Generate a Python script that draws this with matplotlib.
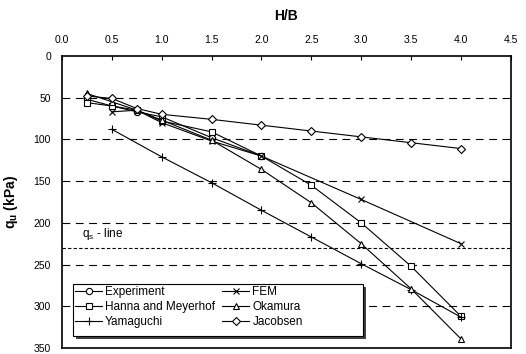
import matplotlib
matplotlib.use("Agg")
import matplotlib.pyplot as plt
from matplotlib.patches import Rectangle

plt.rcParams['font.family'] = ['Liberation Sans', 'DejaVu Sans']

hb_short = [0.25, 0.5, 0.75, 1.0, 1.5, 2.0]
hb_full = [0.25, 0.5, 0.75, 1.0, 1.5, 2.0, 2.5, 3.0, 3.5, 4.0]

experiment = [52, 60, 67, 73, 98, 120]
hb_fem = [0.5, 0.75, 1.0, 1.5, 2.0, 3.0, 4.0]
fem = [67, 65, 80, 102, 120, 172, 225]
hanna = [56, 60, 65, 78, 91, 120, 155, 200, 252, 312]
okamura = [45, 55, 65, 77, 101, 136, 176, 225, 279, 339]
hb_yama = [0.5, 1.0, 1.5, 2.0, 2.5, 3.0, 3.5, 4.0]
yamaguchi = [88, 121, 152, 185, 217, 249, 280, 313]
jacobsen = [48, 51, 63, 70, 76, 83, 90, 97, 104, 111]

qs_line = 230
grid_levels = [50, 100, 150, 200, 250, 300]
xticks = [0, 0.5, 1.0, 1.5, 2.0, 2.5, 3.0, 3.5, 4.0, 4.5]
yticks = [0, 50, 100, 150, 200, 250, 300, 350]

fig = plt.figure(figsize=(5.26, 3.54), dpi=100)
ax = fig.add_axes([0.118, 0.017, 0.853, 0.825])

for g in grid_levels:
    ax.axhline(g, color='black', lw=0.8, dashes=(7, 5), zorder=1)
ax.axhline(qs_line, color='black', lw=0.8, dashes=(3, 2), zorder=1)

kw = dict(color='black', lw=0.8, mfc='white', mec='black', mew=0.8, ms=4.5, zorder=3)
ax.plot(hb_short, experiment, marker='o', label='Experiment', **kw)
ax.plot(hb_full, hanna, marker='s', label='Hanna and Meyerhof', **kw)
ax.plot(hb_yama, yamaguchi, marker='+', label='Yamaguchi', **{**kw, 'ms': 6})
ax.plot(hb_fem, fem, marker='x', label='FEM', **kw)
ax.plot(hb_full, okamura, marker='^', label='Okamura', **{**kw, 'ms': 5})
ax.plot(hb_full, jacobsen, marker='D', label='Jacobsen', **{**kw, 'ms': 4})

ax.set_xlim(0, 4.5)
ax.set_ylim(350, 0)
ax.set_xticks(xticks)
ax.set_xticklabels([f"{v:.1f}" for v in xticks])
ax.set_yticks(yticks)
ax.xaxis.tick_top()
ax.xaxis.set_label_position('top')
ax.tick_params(axis='x', direction='in', length=3, labelsize=7.5, pad=8, width=0.8)
ax.tick_params(axis='y', length=0, labelsize=7.5, pad=8)
for s in ax.spines.values():
    s.set_linewidth(1.2)
    s.set_zorder(6)

ax.set_xlabel('H/B', fontsize=10, fontweight='bold', labelpad=11)
ax.set_ylabel(r'q$_\mathregular{u}$ (kPa)', fontsize=10, fontweight='bold', labelpad=10)

ax.text(0.2, 213, r'q$_\mathregular{s}$ - line', fontsize=8.5, va='center', ha='left')

# legend box (Excel style, with shadow and extra room on the right)
bx0, bx1, by0, by1 = 0.0245, 0.670, 0.041, 0.219
shadow = Rectangle((bx0 + 0.007, by0 - 0.010), bx1 - bx0, by1 - by0,
                   transform=ax.transAxes, facecolor='0.25', edgecolor='none', zorder=4)
box = Rectangle((bx0, by0), bx1 - bx0, by1 - by0, transform=ax.transAxes,
                facecolor='white', edgecolor='black', lw=0.8, zorder=4.1)
ax.add_patch(shadow)
ax.add_patch(box)

leg = ax.legend(ncol=2, loc='upper left', bbox_to_anchor=(0.029, 0.212),
                fontsize=8.5, frameon=False, handlelength=2.3, handletextpad=0.25,
                columnspacing=0.6, labelspacing=0.25, borderpad=0,
                borderaxespad=0)
leg.set_zorder(5)

fig.savefig('out.png', dpi=100)
